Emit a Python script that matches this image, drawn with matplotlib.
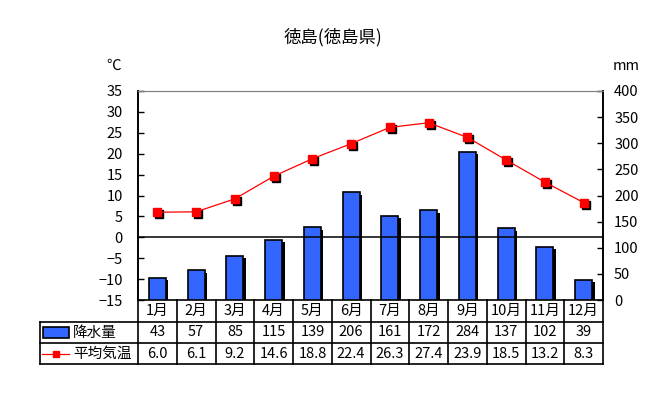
import matplotlib
matplotlib.use("Agg")
import matplotlib.pyplot as plt
import matplotlib.transforms as mtransforms
from matplotlib.patches import Rectangle

plt.rcParams['font.family'] = ['Noto Sans CJK JP', 'DejaVu Sans']

# data
months = ["1月", "2月", "3月", "4月", "5月", "6月", "7月", "8月", "9月", "10月", "11月", "12月"]
rain = [43, 57, 85, 115, 139, 206, 161, 172, 284, 137, 102, 39]
temp = [6.0, 6.1, 9.2, 14.6, 18.8, 22.4, 26.3, 27.4, 23.9, 18.5, 13.2, 8.3]
temp_labels = ["6.0", "6.1", "9.2", "14.6", "18.8", "22.4", "26.3", "27.4", "23.9", "18.5", "13.2", "8.3"]
title = "徳島(徳島県)"

W, H = 655, 399
fig = plt.figure(figsize=(W / 100, H / 100), dpi=100)
fig.patch.set_facecolor("white")
fs = 10.5

# plot area in pixels
L, R, T, B = 138, 603, 91, 300
ax = fig.add_axes([L / W, 1 - B / H, (R - L) / W, (B - T) / H])
ax2 = ax.twinx()
ax.set_zorder(ax2.get_zorder() + 1)
ax.patch.set_visible(False)
ax2.set_facecolor("#FFFFCC")

x = list(range(len(months)))

# bars (precipitation) with black shadow
shadow2 = mtransforms.offset_copy(ax2.transData, fig=fig, x=2.5, y=-2.5, units="dots")
ax2.bar(x, rain, width=0.44, color="black", transform=shadow2, zorder=1)
ax2.bar(x, rain, width=0.44, color="#3366FF", edgecolor="black", linewidth=1.2, zorder=2)
ax2.set_ylim(0, 400)
ax2.set_yticks(range(0, 401, 50))

# temperature line with shadowed markers
shadow = mtransforms.offset_copy(ax.transData, fig=fig, x=2, y=-2, units="dots")
ax.axhline(0, color="black", linewidth=1.1, zorder=1)
ax.plot(x, temp, "s", color="black", markersize=6, transform=shadow, zorder=2)
ax.plot(x, temp, "-", color="red", linewidth=0.9, marker="s", markersize=6, zorder=3)
ax.set_ylim(-15, 35)
ax.set_yticks(range(-15, 36, 5))
ax.set_xlim(-0.5, 11.5)
ax.set_xticks([])
ax2.set_xticks([])

for a in (ax, ax2):
    a.tick_params(axis="y", direction="in", length=4, width=1, labelsize=fs, pad=8)
    a.spines["top"].set_color("#808080")
    a.spines["bottom"].set_visible(False)
    a.spines["left"].set_linewidth(1.2)
    a.spines["right"].set_linewidth(1.2)
ax.tick_params(axis="y", pad=11)

fig.text(114 / W, 1 - 66 / H, "℃", fontsize=fs, ha="center", va="center")
fig.text(626 / W, 1 - 66 / H, "mm", fontsize=fs, ha="center", va="center")
fig.text(333 / W, 1 - 37 / H, title, fontsize=12.5, ha="center", va="center")

# data table below the chart, pixel coordinates
tab = fig.add_axes([0, 0, 1, 1], zorder=-1)
tab.set_xlim(0, W)
tab.set_ylim(H, 0)
tab.axis("off")
cw = (R - L) / len(months)
r0, r1, r2, r3 = B, 322, 343, 364
lx = 40
kw = dict(color="black", linewidth=1.2)
tab.plot([L, R], [r0, r0], **kw)
tab.plot([lx, R], [r1, r1], **kw)
tab.plot([lx, R], [r2, r2], **kw)
tab.plot([lx, R], [r3, r3], **kw)
tab.plot([lx, lx], [r1, r3], **kw)
for i in range(len(months) + 1):
    tab.plot([L + i * cw, L + i * cw], [r0, r3], **kw)
for i, m in enumerate(months):
    cx = L + (i + 0.5) * cw
    tab.text(cx, (r0 + r1) / 2, m, fontsize=fs, ha="center", va="center")
    tab.text(cx, (r1 + r2) / 2, str(rain[i]), fontsize=fs, ha="center", va="center")
    tab.text(cx, (r2 + r3) / 2, temp_labels[i], fontsize=fs, ha="center", va="center")

# legend keys in the table
tab.add_patch(Rectangle((43, 327), 26, 11, facecolor="#3366FF", edgecolor="black", linewidth=1.2))
tab.text(73, (r1 + r2) / 2, "降水量", fontsize=fs, ha="left", va="center")
tab.plot([42, 69], [(r2 + r3) / 2] * 2, color="red", linewidth=0.9)
tab.plot([56], [(r2 + r3) / 2], "s", color="red", markersize=5)
tab.text(73, (r2 + r3) / 2, "平均気温", fontsize=fs, ha="left", va="center")

fig.savefig("out.png", dpi=100)
